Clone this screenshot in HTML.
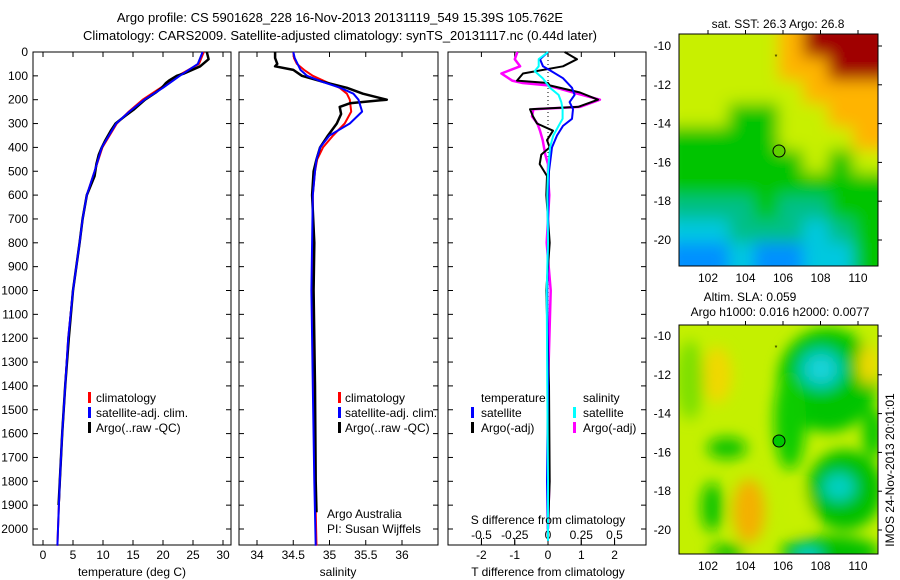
<!DOCTYPE html>
<html><head><meta charset="utf-8"><style>
html,body{margin:0;padding:0;background:#fff;}
svg{display:block;font-family:"Liberation Sans",sans-serif;}
text{font-size:12px;fill:#000;}
</style></head><body>
<svg id="chart" width="900" height="580" viewBox="0 0 900 580">
<defs>
<filter id="blur1" x="-20%" y="-20%" width="140%" height="140%"><feGaussianBlur stdDeviation="8"/></filter>
<filter id="blur2" x="-50%" y="-50%" width="200%" height="200%"><feGaussianBlur stdDeviation="7"/></filter>
<clipPath id="clipm1"><rect x="679" y="34" width="199" height="232"/></clipPath>
<clipPath id="clipm2"><rect x="679" y="325" width="199" height="229"/></clipPath>
</defs>
<text x="340" y="22" text-anchor="middle" style="font-size:13px">Argo profile: CS 5901628_228 16-Nov-2013 20131119_549 15.39S 105.762E</text>
<text x="340" y="40" text-anchor="middle" style="font-size:13px">Climatology: CARS2009. Satellite-adjusted climatology: synTS_20131117.nc (0.44d later)</text>
<g id="panels"></g>
<g id="maps"></g>
<text transform="translate(894,470) rotate(-90)" text-anchor="middle">IMOS 24-Nov-2013 20:01:01</text>
</svg>
<script>
// ===== Data =====
const depthTick = [0,100,200,300,400,500,600,700,800,900,1000,1100,1200,1300,1400,1500,1600,1700,1800,1900,2000];
const tempTicks = [0,5,10,15,20,25,30];
const salTicks = [34,34.5,35,35.5,36];
const salTickLabels = ["34","34.5","35","35.5","36"];
const tdTicks = [-2,-1,0,1,2];
const sdTicks = [-0.5,-0.25,0,0.25,0.5];
const sdTickLabels = ["-0.5","-0.25","0","0.25","0.5"];

const depthT = [0,50,100,150,200,250,300,400,500,600,700,800,1000,1200,1400,1600,1800,2000,2070];
const tempClim = [26.8,26.0,22.5,19.6,16.6,14.3,12.3,9.9,8.6,7.3,6.6,6.1,5.0,4.2,3.7,3.2,2.8,2.5,2.4];
const tempSat  = [26.6,25.8,22.8,20.0,16.9,14.4,12.2,9.8,8.6,7.3,6.6,6.1,5.0,4.2,3.7,3.2,2.8,2.5,2.4];
const depthA = [0,30,60,90,100,120,130,150,170,200,240,270,300,330,370,400,430,470,520,600,700,800,1000,1200,1400,1600,1800,1900];
const tempArgo = [27.3,27.6,26.2,23.5,22.3,21.0,20.5,19.8,18.8,17.0,15.2,13.6,12.1,11.3,10.4,9.8,9.3,8.9,8.6,7.3,6.6,6.1,5.0,4.3,3.7,3.2,2.8,2.6];

const depthS = [0,25,50,75,100,125,150,175,200,250,300,350,400,450,500,600,800,1000,1400,1800,2070];
const salClim = [34.50,34.51,34.55,34.65,34.77,34.95,35.14,35.24,35.28,35.30,35.21,35.05,34.91,34.83,34.80,34.77,34.77,34.76,34.78,34.80,34.82];
const salSat  = [34.50,34.52,34.56,34.60,34.69,34.90,35.15,35.33,35.40,35.45,35.28,35.00,34.87,34.82,34.80,34.77,34.76,34.75,34.77,34.79,34.81];
const depthSA = [0,25,50,60,75,100,125,150,175,200,215,230,260,300,350,400,450,500,600,800,1000,1400,1800,1930];
const salArgo = [34.25,34.25,34.28,34.25,34.50,34.62,34.91,35.24,35.46,35.79,35.28,35.14,35.16,35.10,34.98,34.87,34.82,34.78,34.76,34.79,34.78,34.80,34.81,34.82];

const depthD = [0,30,60,90,120,130,140,170,200,230,240,270,300,330,370,400,430,470,520,600,800,1000,1400,1800,2000];
const tdArgo = [0.5,0.87,0.45,-0.75,-0.93,0,0.05,0.96,1.5,0.9,-0.54,-0.45,-0.33,0.15,-0.03,0.05,-0.2,-0.25,-0.03,-0.05,0.05,-0.05,0.03,0.05,0.0];
const sdArgo = [-0.23,-0.25,-0.21,-0.35,-0.27,-0.19,0,0.19,0.39,0.24,-0.11,-0.12,-0.08,-0.06,-0.04,-0.03,-0.02,0,0,0.01,-0.01,0.02,0,0.01,0];
const depthD2 = [0,30,60,80,110,150,180,210,240,280,310,350,400,500,600,800,1000,1400,1800,2050];
const tdSat = [0,-0.24,-0.15,0.1,0.45,0.72,0.8,0.65,0.75,0.72,0.45,0.27,0.12,0.03,0.01,0,-0.02,0,-0.03,0];
const sdSat = [0,-0.07,-0.07,-0.1,-0.04,0.015,0.08,0.1,0.11,0.11,0.08,0.04,0.015,0,-0.005,0,-0.01,-0.005,0,0];

// ===== helpers =====
const svg = document.getElementById('chart');
const NS = 'http://www.w3.org/2000/svg';
function mk(tag, attrs, parent){const e=document.createElementNS(NS,tag);for(const k in attrs)e.setAttribute(k,attrs[k]);(parent||svg).appendChild(e);return e;}
const yD = d => 52 + d*0.2385;
const xT = t => 43 + t*6;
const xS = s => 257 + (s-34)*72.5;
const xTD = v => 548 + v*33.3;
const xSD = v => 548 + v*133;
const panels = document.getElementById('panels');

function frame(x0,x1,name){
  const r = mk('rect',{x:x0,y:52,width:x1-x0,height:493,fill:'none',stroke:'#000','stroke-width':1},panels);
  
  
  depthTick.forEach(d=>{
    const y=yD(d);
    const t1=mk('line',{x1:x0,x2:x0+5,y1:y,y2:y,stroke:'#000'},panels);
    
    
    const t2=mk('line',{x1:x1-5,x2:x1,y1:y,y2:y,stroke:'#000'},panels);
    
    
  });
}
function xticks(vals,labels,fx,x0,name){
  vals.forEach((v,i)=>{
    const x=fx(v);
    const a=mk('line',{x1:x,x2:x,y1:545,y2:540,stroke:'#000'},panels);
    
    
    const b=mk('line',{x1:x,x2:x,y1:52,y2:57,stroke:'#000'},panels);
    
    
    const t=mk('text',{x:x,y:559,'text-anchor':'middle'},panels);
    t.textContent=labels[i];
    
    
  });
}
function line(ds,vs,fx,color,w,name){
  const pts=ds.map((d,i)=>fx(vs[i]).toFixed(1)+','+yD(d).toFixed(1)).join(' ');
  const p=mk('polyline',{points:pts,fill:'none',stroke:color,'stroke-width':w,'stroke-linejoin':'round'},panels);
  
  
}
function label(x,y,txt,name,anchor){
  const t=mk('text',{x:x,y:y,'text-anchor':anchor||'start'},panels);
  t.textContent=txt;
  
  
  return t;
}
function marker(x,y,color,name){
  const r=mk('rect',{x:x,y:y-10,width:3,height:11,fill:color},panels);
  
  
}

depthTick.forEach(d=>{
  label(28,yD(d)+4,String(d),'depth-tick-label','end');
});

// Panel 1
frame(33,231,'temperature-panel');
xticks(tempTicks,tempTicks.map(String),xT,33,'temperature-tick-label');
line(depthT,tempClim,xT,'#f00',2,'temperature-climatology-line');
line(depthA,tempArgo,xT,'#000',2.5,'temperature-argo-line');
line(depthT,tempSat,xT,'#00f',2,'temperature-satellite-line');
label(132,576,'temperature (deg C)','temperature-axis-title','middle');
marker(88,402,'#f00','legend-climatology-marker');label(96,402,'climatology','legend-climatology');
marker(88,417,'#00f','legend-satellite-marker');label(96,417,'satellite-adj. clim.','legend-satellite');
marker(88,432,'#000','legend-argo-marker');label(96,432,'Argo(..raw -QC)','legend-argo');

// Panel 2
frame(239,438,'salinity-panel');
xticks(salTicks,salTickLabels,xS,239,'salinity-tick-label');
line(depthS,salClim,xS,'#f00',2,'salinity-climatology-line');
line(depthSA,salArgo,xS,'#000',2.5,'salinity-argo-line');
line(depthS,salSat,xS,'#00f',2,'salinity-satellite-line');
label(338,576,'salinity','salinity-axis-title','middle');
marker(338,402,'#f00','legend-climatology-marker');label(345,402,'climatology','legend-climatology');
marker(338,417,'#00f','legend-satellite-marker');label(345,417,'satellite-adj. clim.','legend-satellite');
marker(338,432,'#000','legend-argo-marker');label(345,432,'Argo(..raw -QC)','legend-argo');
label(327,518,'Argo Australia','credit-argo-australia');
label(327,533,'PI: Susan Wijffels','credit-pi');

// Panel 3
frame(448,646,'difference-panel');
xticks(tdTicks,tdTicks.map(String),xTD,448,'t-difference-tick-label');
sdTicks.forEach((v,i)=>{
  const x=xSD(v);
  const a=mk('line',{x1:x,x2:x,y1:545,y2:538,stroke:'#000'},panels);
  
  
  label(x,539,sdTickLabels[i],'s-difference-tick-label','middle');
});
const zl=mk('line',{x1:548,x2:548,y1:52,y2:545,stroke:'#000','stroke-dasharray':'1,3'},panels);


line(depthD,sdArgo,xSD,'#f0f',2.5,'s-diff-argo-line');
line(depthD,tdArgo,xTD,'#000',2,'t-diff-argo-line');
line(depthD2,tdSat,xTD,'#00f',2,'t-diff-satellite-line');
line(depthD2,sdSat,xSD,'#0ff',2,'s-diff-satellite-line');
label(548,524,'S difference from climatology','s-difference-axis-title','middle');
label(548,576,'T difference from climatology','t-difference-axis-title','middle');
label(481,402,'temperature','legend-temperature-header');
marker(471,417,'#00f','legend-t-satellite-marker');label(481,417,'satellite','legend-t-satellite');
marker(471,432,'#000','legend-t-argo-marker');label(481,432,'Argo(-adj)','legend-t-argo');
label(583,402,'salinity','legend-salinity-header');
marker(573,417,'#0ff','legend-s-satellite-marker');label(583,417,'satellite','legend-s-satellite');
marker(573,432,'#f0f','legend-s-argo-marker');label(583,432,'Argo(-adj)','legend-s-argo');

// ===== Maps =====
const maps=document.getElementById('maps');
const lonTicks=[102,104,106,108,110];
const latTicks=[-10,-12,-14,-16,-18,-20];
const sstGrid=[
 "YYYYORRR","YYYYOORR","YYYYYOOO","YYGGYYOO","GGGGYYYO",
 "GGGGGYGY","GGGGGGGG","TTTGTTGG","CCTTTCTG","BBCBBCCG"];
const sstColor={Y:'#c8f000',O:'#ffb400',R:'#a00000',G:'#00c400',T:'#00c088',C:'#00c8e0',B:'#0090ff'};
function mapFrame(y0,h,latY,name){
  const fr=mk('rect',{x:679,y:y0,width:199,height:h,fill:'none',stroke:'#000'},maps);
  
  
  lonTicks.forEach(lon=>{
    const x=708+(lon-102)*18.75;
    const t=mk('line',{x1:x,x2:x,y1:y0-4,y2:y0,stroke:'#000'},maps);
    
    
    const tt=mk('text',{x:x,y:y0+h+16,'text-anchor':'middle'},maps);
    tt.textContent=String(lon);
    
    
  });
  latTicks.forEach(lat=>{
    const y=latY(lat);
    const t=mk('line',{x1:878,x2:882,y1:y,y2:y,stroke:'#000'},maps);
    
    
    const tt=mk('text',{x:671,y:y+4,'text-anchor':'end'},maps);
    tt.textContent=String(lat);
    
    
  });
}
const g1=mk('g',{'clip-path':'url(#clipm1)'},maps);


const gb=mk('g',{filter:'url(#blur1)'},g1);
const cw=199/8, ch=232/10;
sstGrid.forEach((row,r)=>{[...row].forEach((c,k)=>{
  const e=mk('rect',{x:679+k*cw-(k==0?15:0),y:34+r*ch-(r==0?15:0),width:cw+1+(k==0||k==7?15:0),height:ch+1+(r==0||r==9?15:0),fill:sstColor[c]},gb);
  
  
});});
const lat1=lat=>46+(-10-lat)*19.4;
mapFrame(34,232,lat1,'sst-map-frame');
let t=mk('text',{x:778,y:28,'text-anchor':'middle'},maps);t.textContent='sat. SST: 26.3 Argo: 26.8';


let c=mk('circle',{cx:779,cy:151,r:6,fill:'#60d000',stroke:'#000'},maps);


const g2=mk('g',{'clip-path':'url(#clipm2)'},maps);


mk('rect',{x:679,y:325,width:199,height:229,fill:'#c4f000'},g2);
const gb2=mk('g',{filter:'url(#blur2)'},g2);
const blobs=[
 [717,375,15,28,'#f0d800'],[749,511,16,32,'#f4b000'],[690,380,14,40,'#7ee000'],
 [828,380,50,52,'#00c400'],[790,420,16,50,'#10cc00'],[821,369,22,20,'#00c8c0'],[821,369,10,9,'#20d8e0'],
 [727,448,20,11,'#10c400'],[712,507,11,25,'#10c400'],
 [845,490,38,40,'#00c000'],[839,487,16,14,'#00d0c0'],
 [830,552,50,16,'#00c000'],[808,556,14,8,'#00d0d0'],[727,552,18,8,'#10c000'],
 [873,433,10,25,'#00c400'],[868,365,10,20,'#f0d800'],[800,510,10,20,'#c8f000']];
blobs.forEach(b=>{
  const e=mk('ellipse',{cx:b[0],cy:b[1],rx:b[2],ry:b[3],fill:b[4]},gb2);
  
  
});
const lat2=lat=>336+(-10-lat)*19.4;
mapFrame(325,229,lat2,'sla-map-frame');
t=mk('text',{x:750,y:301,'text-anchor':'middle'},maps);t.textContent='Altim. SLA: 0.059';


t=mk('text',{x:780,y:316,'text-anchor':'middle'},maps);t.textContent='Argo h1000: 0.016 h2000: 0.0077';


c=mk('circle',{cx:779,cy:441,r:6,fill:'#00c800',stroke:'#000'},maps);


[[776,56],[776,347]].forEach(p=>{
  const m=mk('text',{x:p[0],y:p[1]+3,'text-anchor':'middle',style:'font-size:7px'},maps);
  m.textContent='*';
  
  
});
</script>
</body></html>
